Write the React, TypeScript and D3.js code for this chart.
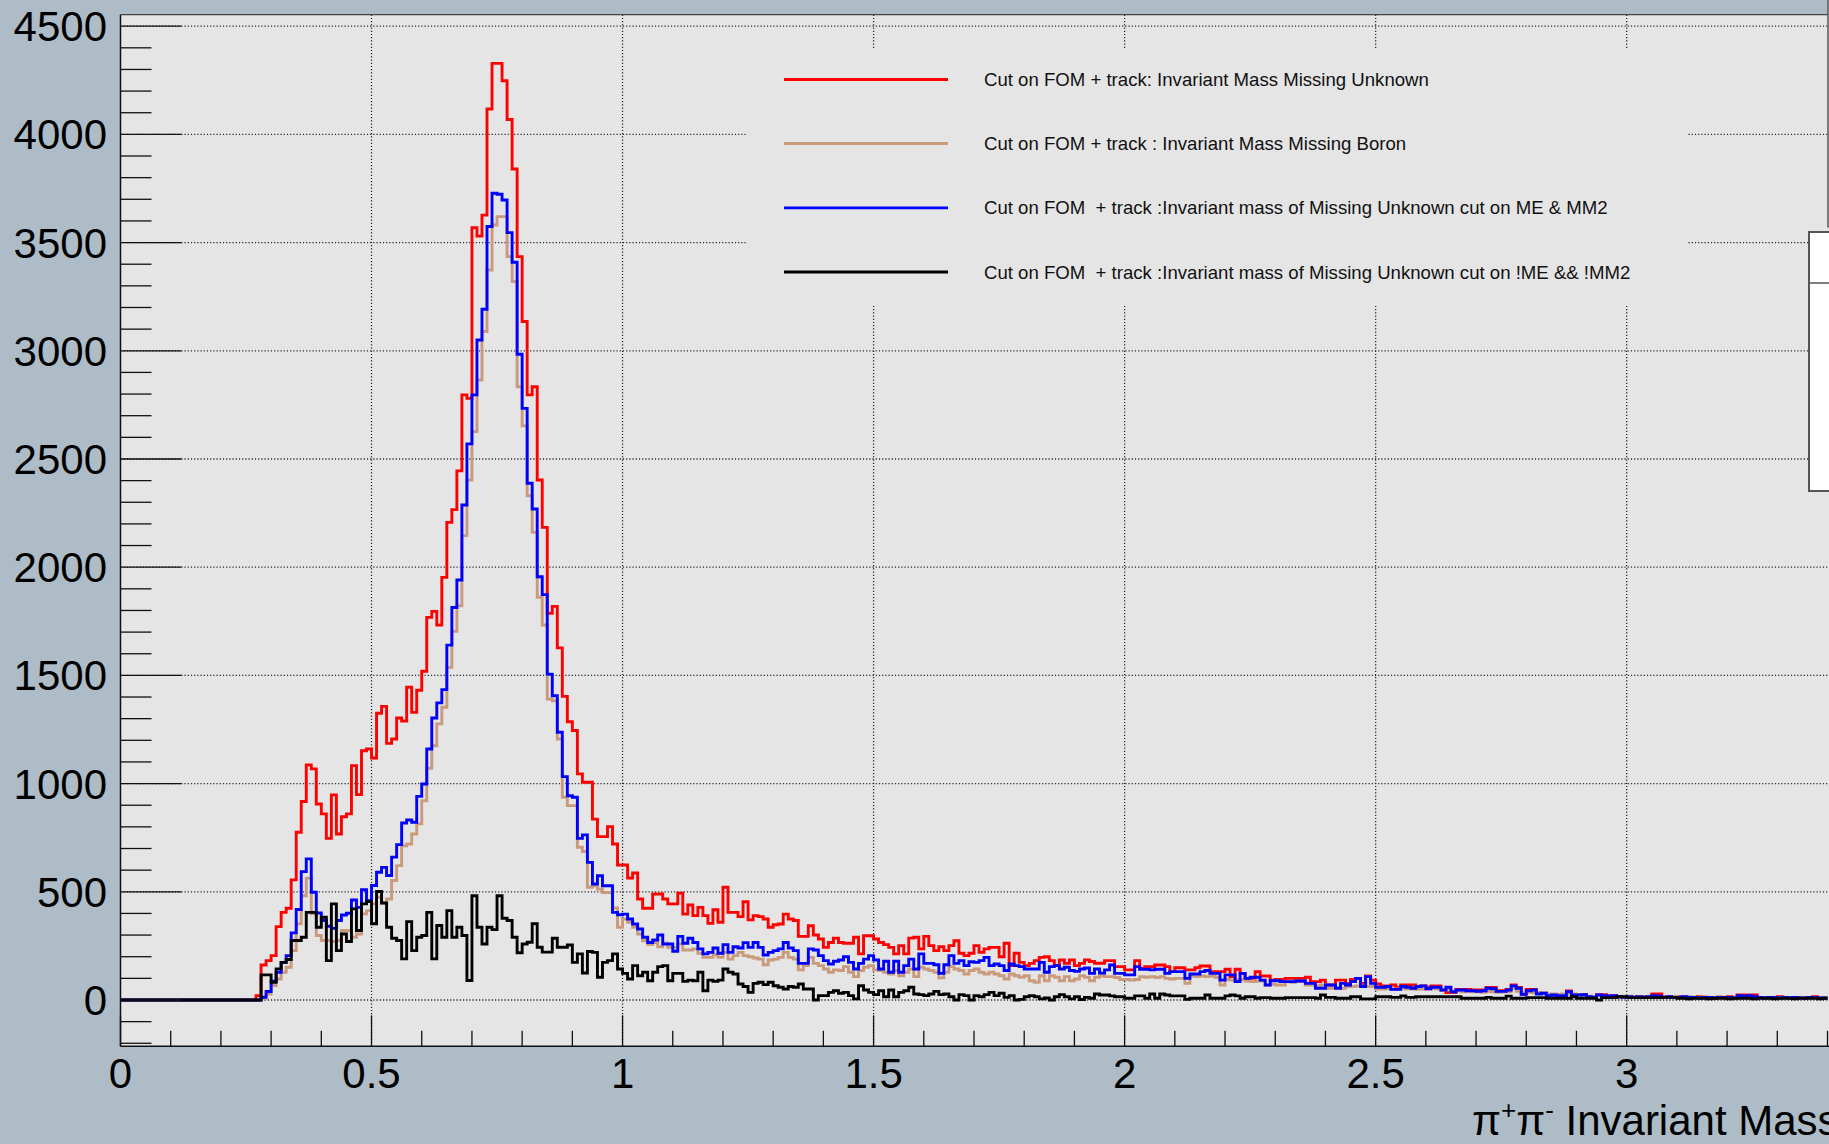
import React from "react";
import * as d3 from "d3";

// π+π− invariant-mass histograms, 0.01 bins starting at 0.27 (all earlier bins are empty)
const binStart = 0.27;
const binWidth = 0.01;

const missingUnknown = [
  20, 162, 182, 205, 339, 405, 424, 555, 775, 917,
  1086, 1068, 906, 860, 747, 948, 767, 847, 860, 1083,
  949, 1152, 1160, 1118, 1325, 1357, 1186, 1206, 1303, 1289,
  1445, 1329, 1431, 1519, 1768, 1796, 1733, 1953, 2207, 2266,
  2445, 2796, 2780, 3569, 3530, 3627, 4117, 4328, 4328, 4248,
  4069, 3840, 3435, 3135, 2796, 2834, 2403, 2184, 1787, 1819,
  1627, 1403, 1286, 1245, 1045, 1006, 1006, 836, 755, 755,
  801, 721, 624, 624, 564, 587, 467, 424, 424, 490,
  490, 467, 444, 444, 494, 397, 439, 390, 428, 390,
  354, 417, 359, 521, 405, 405, 385, 454, 370, 390,
  385, 374, 336, 348, 351, 397, 374, 367, 294, 294,
  343, 300, 282, 243, 266, 286, 266, 262, 262, 290,
  213, 297, 297, 282, 266, 256, 243, 213, 251, 213,
  286, 290, 236, 294, 251, 228, 246, 228, 251, 274,
  216, 205, 216, 251, 220, 236, 243, 243, 200, 262,
  159, 216, 174, 159, 169, 182, 197, 200, 182, 159,
  185, 169, 185, 159, 169, 185, 178, 170, 170, 182,
  182, 154, 154, 139, 139, 182, 146, 154, 154, 162,
  162, 154, 131, 149, 149, 139, 139, 149, 157, 157,
  131, 131, 131, 142, 108, 142, 123, 100, 100, 131,
  111, 111, 92, 95, 95, 100, 100, 100, 100, 105,
  85, 85, 92, 69, 69, 92, 92, 77, 95, 100,
  77, 111, 92, 74, 65, 65, 69, 59, 69, 69,
  69, 62, 65, 59, 65, 65, 46, 34, 34, 49,
  49, 49, 46, 46, 46, 58, 58, 43, 43, 49,
  69, 58, 28, 49, 49, 31, 31, 23, 23, 23,
  23, 42, 26, 26, 26, 15, 15, 25, 25, 20,
  20, 15, 15, 15, 15, 15, 15, 15, 28, 28,
  15, 15, 12, 15, 15, 12, 12, 15, 12, 12,
  9, 12, 12, 15, 12, 23, 23, 23, 23, 12,
  12, 9, 12, 15, 12, 9, 12, 12, 9, 12, 15, 12, 9,
];

const missingBoron = [
  0, 8, 28, 67, 97, 128, 151, 228, 352, 482,
  563, 398, 298, 275, 275, 270, 275, 321, 321, 290,
  305, 398, 413, 444, 475, 448, 467, 552, 621, 713,
  721, 767, 814, 921, 1071, 1175, 1276, 1353, 1537, 1704,
  1822, 2146, 2403, 2627, 2865, 3089, 3373, 3581, 3620, 3620,
  3435, 3320, 2834, 2653, 2330, 2161, 1861, 1733, 1391, 1383,
  1206, 937, 898, 898, 706, 686, 521, 528, 513, 497,
  497, 425, 336, 374, 359, 336, 305, 274, 256, 266,
  246, 262, 243, 243, 259, 231, 231, 236, 216, 197,
  197, 209, 197, 220, 189, 205, 220, 205, 200, 194,
  189, 163, 185, 189, 197, 220, 197, 189, 139, 159,
  197, 169, 159, 143, 128, 139, 136, 154, 128, 108,
  136, 151, 159, 139, 136, 128, 120, 136, 112, 128,
  143, 108, 151, 143, 136, 128, 102, 128, 154, 143,
  136, 120, 136, 143, 128, 120, 128, 120, 112, 97,
  120, 112, 105, 112, 89, 82, 112, 89, 112, 105,
  89, 108, 89, 97, 112, 105, 89, 105, 112, 108,
  108, 104, 95, 95, 92, 95, 108, 105, 108, 104,
  108, 100, 97, 100, 100, 77, 111, 108, 111, 108,
  111, 105, 69, 95, 92, 95, 95, 88, 85, 88,
  88, 69, 72, 69, 69, 85, 82, 85, 85, 69,
  69, 66, 69, 54, 54, 57, 54, 62, 62, 65,
  62, 62, 62, 51, 51, 54, 51, 51, 54, 51,
  51, 49, 51, 51, 54, 51, 46, 51, 38, 43,
  38, 40, 38, 38, 35, 40, 38, 35, 38, 38,
  54, 40, 34, 35, 34, 34, 31, 28, 28, 26,
  28, 28, 28, 26, 18, 18, 15, 20, 18, 18,
  18, 15, 18, 18, 15, 15, 12, 15, 15, 15,
  15, 12, 15, 12, 15, 15, 12, 12, 15, 12,
  12, 15, 12, 12, 12, 15, 12, 15, 12, 12,
  12, 9, 12, 12, 9, 12, 12, 9, 12, 12, 9, 12, 9,
];

const cutMeMm2 = [
  0, 13, 39, 87, 128, 174, 205, 310, 418, 593,
  652, 498, 402, 367, 341, 331, 367, 393, 401, 462,
  428, 510, 459, 529, 590, 613, 575, 660, 718, 818,
  832, 821, 941, 998, 1160, 1303, 1373, 1434, 1640, 1814,
  1941, 2287, 2570, 2796, 3050, 3192, 3574, 3728, 3723, 3697,
  3546, 3409, 2984, 2734, 2388, 2269, 1956, 1873, 1506, 1406,
  1237, 1032, 944, 937, 747, 763, 636, 536, 574, 528,
  528, 405, 394, 397, 374, 351, 328, 290, 266, 277,
  300, 259, 259, 225, 294, 262, 285, 266, 236, 213,
  220, 240, 216, 256, 220, 246, 240, 265, 243, 266,
  243, 208, 220, 228, 236, 266, 240, 228, 169, 169,
  236, 231, 205, 182, 166, 179, 185, 200, 174, 143,
  169, 189, 205, 185, 143, 179, 128, 179, 128, 159,
  189, 143, 213, 169, 169, 163, 123, 163, 205, 169,
  182, 159, 177, 174, 182, 197, 159, 166, 159, 136,
  166, 159, 154, 143, 143, 143, 174, 128, 154, 159,
  143, 151, 136, 132, 143, 148, 123, 143, 124, 139,
  162, 123, 123, 116, 116, 154, 142, 142, 139, 142,
  142, 123, 131, 131, 131, 100, 120, 120, 131, 136,
  123, 123, 92, 116, 116, 85, 123, 100, 105, 105,
  92, 69, 89, 89, 85, 85, 85, 88, 88, 77,
  77, 54, 54, 69, 69, 54, 77, 69, 85, 100,
  62, 108, 77, 59, 59, 62, 49, 49, 62, 59,
  54, 62, 65, 52, 59, 59, 46, 59, 38, 46,
  46, 43, 43, 40, 43, 54, 52, 40, 40, 46,
  65, 54, 26, 43, 46, 28, 31, 20, 23, 20,
  20, 38, 23, 23, 25, 15, 12, 23, 20, 18,
  20, 15, 12, 15, 12, 15, 12, 15, 20, 18,
  12, 15, 12, 12, 15, 12, 12, 9, 12, 12,
  9, 12, 12, 12, 9, 20, 18, 20, 15, 12,
  9, 12, 12, 9, 12, 9, 12, 9, 9, 12, 12, 9, 9,
];

const cutNotMeMm2 = [
  0, 116, 116, 82, 144, 174, 187, 275, 275, 290,
  405, 405, 336, 382, 182, 444, 228, 305, 270, 421,
  321, 444, 455, 352, 501, 448, 336, 285, 275, 190,
  362, 228, 290, 298, 405, 190, 344, 290, 413, 290,
  336, 298, 90, 482, 336, 259, 336, 325, 482, 378,
  367, 290, 218, 259, 267, 352, 244, 221, 221, 285,
  244, 244, 254, 174, 213, 125, 224, 220, 105, 174,
  182, 213, 143, 123, 97, 159, 112, 128, 89, 128,
  154, 159, 89, 123, 123, 86, 92, 89, 128, 43,
  92, 86, 92, 143, 128, 120, 74, 62, 35, 77,
  82, 71, 82, 66, 59, 51, 62, 59, 74, 51,
  51, 0, 20, 20, 35, 43, 31, 35, 20, 5,
  66, 46, 35, 25, 43, 15, 46, 15, 35, 43,
  59, 28, 25, 20, 28, 40, 25, 28, 15, 0,
  25, 20, 0, 20, 15, 25, 35, 20, 31, 12,
  20, 0, 3, 15, 20, 15, 5, 9, 0, 15,
  25, 15, 5, 15, 2, 12, 8, 28, 23, 23,
  19, 15, 15, 8, 8, 19, 19, 8, 28, 8,
  28, 23, 19, 19, 19, 3, 8, 8, 8, 23,
  8, 8, 8, 19, 23, 19, 8, 15, 15, 8,
  11, 11, 8, 8, 8, 11, 11, 11, 11, 11,
  11, 8, 23, 12, 12, 8, 8, 8, 15, 15,
  5, 5, 5, 15, 15, 15, 12, 12, 19, 12,
  12, 15, 15, 15, 15, 15, 15, 15, 15, 15,
  8, 8, 8, 8, 8, 12, 8, 8, 8, 18,
  8, 8, 8, 11, 11, 11, 11, 8, 8, 8,
  8, 8, 15, 8, 8, 8, 8, 0, 11, 11,
  11, 15, 15, 11, 11, 11, 11, 11, 11, 11,
  12, 12, 12, 8, 8, 5, 8, 8, 8, 5,
  8, 8, 8, 5, 8, 8, 8, 8, 5, 8,
  8, 8, 5, 8, 8, 8, 5, 8, 8, 8, 8, 5, 8,
];

const legendLabels = [
  "Cut on FOM + track: Invariant Mass Missing Unknown",
  "Cut on FOM + track : Invariant Mass Missing Boron",
  "Cut on FOM  + track :Invariant mass of Missing Unknown cut on ME & MM2",
  "Cut on FOM  + track :Invariant mass of Missing Unknown cut on !ME && !MM2",
];

const xMajorTicks = [0, 0.5, 1, 1.5, 2, 2.5, 3];
const yMajorTicks = [0, 500, 1000, 1500, 2000, 2500, 3000, 3500, 4000, 4500];

const W = 1829;
const H = 1144;
const FONT = "'Liberation Sans', Arial, Helvetica, sans-serif";

const frame = { left: 120.5, right: 1829, top: 14.7, bottom: 1046.3 };

const x = d3.scaleLinear().domain([0, 3.403]).range([frame.left, frame.right]);
const y = d3.scaleLinear().domain([-214, 4553]).range([frame.bottom, frame.top]);

const series = [
  { values: missingUnknown, color: "#ff0000" },
  { values: missingBoron, color: "#c99a7c" },
  { values: cutMeMm2, color: "#0000ff" },
  { values: cutNotMeMm2, color: "#000000" },
];

function stepPath(values: number[]): string {
  const pts: [number, number][] = [[0, 0]];
  values.forEach((v, i) => pts.push([binStart + i * binWidth, v]));
  pts.push([binStart + values.length * binWidth, values[values.length - 1]]);
  const line = d3
    .line<[number, number]>()
    .x((d) => x(d[0]))
    .y((d) => y(d[1]))
    .curve(d3.curveStepAfter);
  return line(pts) || "";
}

export default function App() {
  const xMinor = d3.range(0, 35).map((i) => i / 10).filter((v) => !xMajorTicks.includes(v) && v <= 3.4);
  const yMinor = d3.range(-2, 46).map((i) => i * 100).filter((v) => v % 500 !== 0);
  const legendRows = [79.5, 143.5, 207.8, 272];
  const legendColors = ["#ff0000", "#c99a7c", "#0000ff", "#000000"];

  return (
    <svg
      width={W}
      height={H}
      viewBox={`0 0 ${W} ${H}`}
      style={{ position: "absolute", left: 0, top: 0, display: "block" }}
      fontFamily={FONT}
    >
      <defs>
        <clipPath id="frameClip">
          <rect x={frame.left} y={frame.top} width={frame.right - frame.left} height={frame.bottom - frame.top} />
        </clipPath>
      </defs>
      <rect x={0} y={0} width={W} height={H} fill="#adbcc7" />
      <rect x={frame.left} y={frame.top} width={frame.right - frame.left + 5} height={frame.bottom - frame.top} fill="#e5e5e5" />

      {/* grid */}
      <g stroke="#2a2a2a" strokeWidth={1.3} strokeDasharray="1.2 2">
        {xMajorTicks.filter((v) => v > 0).map((v) => (
          <line key={"gx" + v} x1={x(v)} x2={x(v)} y1={frame.top} y2={frame.bottom} />
        ))}
        {yMajorTicks.map((v) => (
          <line key={"gy" + v} x1={frame.left} x2={frame.right} y1={y(v)} y2={y(v)} />
        ))}
      </g>

      {/* legend panel */}
      <rect x={747} y={50} width={941} height={256} fill="#e5e5e5" />

      {/* histograms */}
      <g clipPath="url(#frameClip)" fill="none" strokeWidth={2.9} strokeLinejoin="miter">
        {series.map((s, i) => (
          <path key={i} d={stepPath(s.values)} stroke={s.color} />
        ))}
      </g>

      {/* ticks */}
      <g stroke="#111" strokeWidth={1.3}>
        {yMajorTicks.map((v) => (
          <line key={"ty" + v} x1={frame.left} x2={frame.left + 61} y1={y(v)} y2={y(v)} />
        ))}
        {yMinor.map((v) => (
          <line key={"tym" + v} x1={frame.left} x2={frame.left + 31} y1={y(v)} y2={y(v)} />
        ))}
        {xMajorTicks.map((v) => (
          <line key={"tx" + v} x1={x(v)} x2={x(v)} y1={frame.bottom} y2={frame.bottom - 31} />
        ))}
        {xMinor.map((v) => (
          <line key={"txm" + v} x1={x(v)} x2={x(v)} y1={frame.bottom} y2={frame.bottom - 15.5} />
        ))}
      </g>

      {/* frame border */}
      <line x1={frame.left} x2={frame.right} y1={frame.top} y2={frame.top} stroke="#444" strokeWidth={1.2} />
      <line x1={frame.left} x2={frame.left} y1={frame.top} y2={frame.bottom} stroke="#111" strokeWidth={1.5} />
      <line x1={frame.left} x2={frame.right} y1={frame.bottom} y2={frame.bottom} stroke="#111" strokeWidth={1.5} />

      {/* axis labels */}
      <g fontSize={42} fill="#000">
        {yMajorTicks.map((v) => (
          <text key={"ly" + v} x={107} y={y(v) + 15} textAnchor="end">
            {v}
          </text>
        ))}
        {xMajorTicks.map((v) => (
          <text key={"lx" + v} x={x(v)} y={1088} textAnchor="middle">
            {v}
          </text>
        ))}
        <text x={1472} y={1135}>
          π<tspan fontSize={26} dy={-16}>+</tspan>
          <tspan dy={16}>π</tspan>
          <tspan fontSize={26} dy={-16}>-</tspan>
          <tspan dy={16}> Invariant Mass</tspan>
        </text>
      </g>

      {/* legend entries */}
      <g fontSize={18.6} fill="#111">
        {legendLabels.map((label, i) => (
          <g key={label}>
            <line x1={784} x2={948} y1={legendRows[i]} y2={legendRows[i]} stroke={legendColors[i]} strokeWidth={2.8} />
            <text x={984} y={legendRows[i] + 6.6} style={{ whiteSpace: "pre" }}>
              {label}
            </text>
          </g>
        ))}
      </g>

      {/* stats boxes at the right edge */}
      <rect x={1828} y={-10} width={30} height={236.7} fill="#ffffff" stroke="#555" strokeWidth={1.5} />
      <rect x={1809} y={232} width={40} height={259} fill="#ffffff" stroke="#555" strokeWidth={2} />
      <line x1={1809} x2={1829} y1={283} y2={283} stroke="#555" strokeWidth={1.5} />
    </svg>
  );
}
